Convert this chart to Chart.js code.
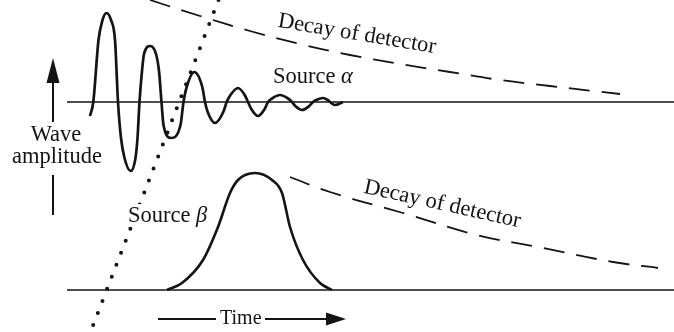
<!DOCTYPE html>
<html>
<head>
<meta charset="utf-8">
<script src="https://cdn.jsdelivr.net/npm/chart.js@4.4.1/dist/chart.umd.min.js"></script>
<style>
  body { margin: 0; background: #fff; }
  #wrap { width: 674px; height: 332px; }
</style>
</head>
<body>
<div id="wrap"><canvas id="c" width="674" height="332"></canvas></div>
<script>
// time runs left to right, amplitude is measured from each trace's own baseline
const alphaTime = [90, 93.3, 98.5, 102.5, 106.5, 111, 115, 118, 121, 124.5, 130.7, 135.5, 137.5, 139.5, 142, 144, 150.3, 156, 159, 161.5, 163.5, 171, 180.5, 183.5, 186.7, 194.3, 202.3, 205, 207.7, 215, 223.3, 226.7, 230.5, 238, 244.7, 248, 251.3, 258, 264.7, 268, 272, 280, 288, 292, 295.3, 302, 309.3, 313, 316.3, 323, 327.7, 330, 335, 343];
const alphaAmp  = [-14, 0, 62, 82, 89, 82, 62, 0, -36, -56, -69, -56, -36, 0, 31, 48, 56, 48, 31, 0, -23, -36, -23, 0, 15, 30, 15, 0, -10, -21, -10, 0, 7, 14, 7, 0, -7, -14, -7, 0, 3.5, 7, 3.5, 0, -4, -8, -4, 0, 2, 4, 2, 0, -3, 0];

const betaTime = [167, 182, 203, 218, 230, 238, 255, 272, 282, 290, 303, 320, 332];
const betaAmp  = [0, 7, 30, 63, 97, 110, 117, 110, 97, 63, 30, 7, 0];

const decayAlphaTime = [150, 200, 250, 300, 350, 400, 450, 500, 550, 620];
const decayAlphaAmp  = [102, 86, 71, 58, 47, 38, 30, 22, 16, 8];

const decayBetaTime = [290, 330, 403, 477, 543, 613, 658];
const decayBetaAmp  = [113, 98, 77, 55, 42, 28, 22];

const onsetTime = [218.5, 90.5];
const onsetAmp  = [102, -230];

const baseTime = [67, 674];
const baseAmp  = [0, 0];

const pts = (xs, ys) => xs.map((x, i) => ({ x: x, y: ys[i] }));

const ink = "#141414";

function line(data, axis, extra) {
    return Object.assign({
        data: data,
        yAxisID: axis,
        showLine: true,
        borderColor: ink,
        borderWidth: 1.6,
        pointRadius: 0,
        tension: 0,
        fill: false,
        clip: false
    }, extra || {});
}

// labels and arrow heads, placed in data units
const textPlugin = {
    id: "diagramText",
    afterDatasetsDraw(chart) {
        const ctx = chart.ctx;
        const x = chart.scales.x, ya = chart.scales.yA, yb = chart.scales.yB;
        const font = "22.5px 'Liberation Serif'";
        const ital = "italic 22.5px 'Liberation Serif'";
        ctx.save();
        ctx.textBaseline = "alphabetic";

        // white patch behind "Source beta" hides the dots there
        ctx.fillStyle = "#fff";
        ctx.fillRect(x.getPixelForValue(126), yb.getPixelForValue(86), 86, 22);
        ctx.fillStyle = ink;

        ctx.font = font;
        ctx.textAlign = "center";
        ctx.fillText("Wave", x.getPixelForValue(56), ya.getPixelForValue(-39));
        ctx.fillText("amplitude", x.getPixelForValue(57), ya.getPixelForValue(-61));

        ctx.textAlign = "left";
        const greek = (label, sym, px, py) => {
            ctx.font = font;
            ctx.fillText(label, px, py);
            const w = ctx.measureText(label).width;
            ctx.font = ital;
            ctx.fillText(sym, px + w, py);
        };
        greek("Source ", "\u03b1", x.getPixelForValue(273), ya.getPixelForValue(19));
        greek("Source ", "\u03b2", x.getPixelForValue(128), yb.getPixelForValue(68));

        ctx.font = "20px 'Liberation Serif'";
        ctx.fillText("Time", x.getPixelForValue(220), yb.getPixelForValue(-34));

        const tilted = (px, py, deg) => {
            ctx.save();
            ctx.translate(px, py);
            ctx.rotate(deg * Math.PI / 180);
            ctx.font = font;
            ctx.textAlign = "center";
            ctx.fillText("Decay of detector", 0, 0);
            ctx.restore();
        };
        tilted(x.getPixelForValue(356), ya.getPixelForValue(62), 9.5);
        tilted(x.getPixelForValue(441), yb.getPixelForValue(80), 12.5);

        // arrow heads
        ctx.beginPath();
        const ux = x.getPixelForValue(53);
        ctx.moveTo(ux, ya.getPixelForValue(44));
        ctx.lineTo(ux - 6.5, ya.getPixelForValue(19));
        ctx.lineTo(ux + 6.5, ya.getPixelForValue(19));
        ctx.closePath();
        ctx.fill();

        ctx.beginPath();
        const ty = yb.getPixelForValue(-29);
        ctx.moveTo(x.getPixelForValue(346), ty);
        ctx.lineTo(x.getPixelForValue(326), ty - 6.5);
        ctx.lineTo(x.getPixelForValue(326), ty + 6.5);
        ctx.closePath();
        ctx.fill();
        ctx.restore();
    }
};

new Chart(document.getElementById("c"), {
    type: "scatter",
    data: {
        datasets: [
            line(pts(baseTime, baseAmp), "yA", { borderWidth: 1.5 }),
            line(pts(baseTime, baseAmp), "yB", { borderWidth: 1.5 }),
            line(pts(decayAlphaTime, decayAlphaAmp), "yA", { borderWidth: 1.8, borderDash: [21, 12], tension: 0.4 }),
            line(pts(decayBetaTime, decayBetaAmp), "yB", { borderWidth: 1.8, borderDash: [21, 12], tension: 0.4 }),
            line(pts(onsetTime, onsetAmp), "yA", { borderWidth: 4, borderDash: [0, 12.9], borderCapStyle: "round" }),
            line(pts(alphaTime, alphaAmp), "yA", { borderWidth: 2.7, cubicInterpolationMode: "monotone" }),
            line(pts(betaTime, betaAmp), "yB", { borderWidth: 2.6, cubicInterpolationMode: "monotone" }),
            // amplitude axis arrow shaft, in two pieces around the label
            line(pts([53, 53], [-20, 30]), "yA", { borderWidth: 2 }),
            line(pts([53, 53], [-73, -113]), "yA", { borderWidth: 2 }),
            // time arrow shaft, broken by the label
            line(pts([158, 216], [-29, -29]), "yB", { borderWidth: 1.8 }),
            line(pts([265, 330], [-29, -29]), "yB", { borderWidth: 1.8 })
        ]
    },
    options: {
        responsive: false,
        animation: false,
        layout: { padding: 0 },
        plugins: { legend: { display: false }, tooltip: { enabled: false } },
        scales: {
            x: { type: "linear", display: false, min: 0, max: 674 },
            yA: { type: "linear", display: false, min: -230, max: 102 },
            yB: { type: "linear", display: false, min: -42, max: 290 }
        }
    },
    plugins: [textPlugin]
});
</script>
</body>
</html>
